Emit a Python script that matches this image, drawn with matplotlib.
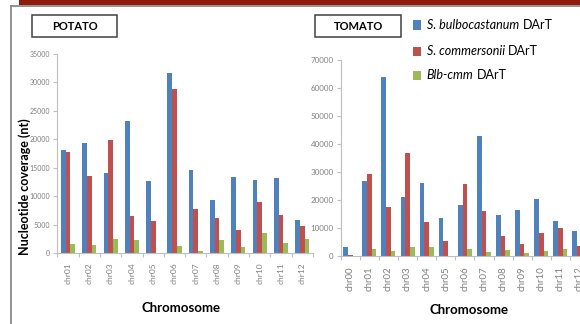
import matplotlib
matplotlib.use("Agg")
import matplotlib.pyplot as plt
from matplotlib.patches import Rectangle
import numpy as np

plt.rcParams['font.family'] = ['Lato', 'DejaVu Sans']

# Potato chromosomes
potato_chr = ["chr01", "chr02", "chr03", "chr04", "chr05", "chr06",
              "chr07", "chr08", "chr09", "chr10", "chr11", "chr12"]
potato_blb = [18200, 19350, 14000, 23150, 12650, 31700, 14600, 9250, 13400, 12900, 13250, 5800]
potato_cmm = [17700, 13500, 19800, 6500, 5700, 28850, 7800, 6200, 4050, 8950, 6650, 4750]
potato_blbcmm = [1550, 1350, 2400, 2300, 0, 1150, 400, 2250, 1050, 3500, 1800, 2450]

# Tomato chromosomes
tomato_chr = ["chr00", "chr01", "chr02", "chr03", "chr04", "chr05", "chr06",
              "chr07", "chr08", "chr09", "chr10", "chr11", "chr12"]
tomato_blb = [3200, 26950, 64000, 21000, 26100, 13650, 18450, 42900, 14700, 16500, 20450, 12500, 9150]
tomato_cmm = [500, 29200, 17700, 36800, 12200, 5450, 25650, 16050, 7150, 4550, 8200, 10100, 3550]
tomato_blbcmm = [0, 2500, 1900, 3200, 3200, 0, 2500, 1550, 2400, 1050, 2050, 2600, 2000]

series_names = ["S. bulbocastanum", "S. commersonii", "Blb-cmm"]
colors = ["#4F81BD", "#C0504D", "#9BBB59"]

W, H = 580, 324
fig = plt.figure(figsize=(W / 100, H / 100), dpi=100)


def fx(px):
    return px / W


def fy(py):
    return 1 - py / H


# top banner and frame
fig.patches.append(Rectangle((fx(19), fy(5)), 1 - fx(19), fy(0) - fy(5),
                             transform=fig.transFigure, facecolor="#8E1A0B",
                             edgecolor="none", zorder=0))
fig.add_artist(plt.Line2D([fx(11), fx(11)], [fy(5.5), 0], transform=fig.transFigure,
                          color="#8a8a8a", lw=1.3))
fig.add_artist(plt.Line2D([fx(11), 1], [fy(5.5), fy(5.5)], transform=fig.transFigure,
                          color="#8a8a8a", lw=1.3))

spine_col = "#BFBFBF"
tick_col = "#7F7F7F"


def draw_panel(rect, cats, data, ymax, ystep, bw, ysize, xsize):
    ax = fig.add_axes(rect)
    n = len(cats)
    x = np.arange(n)
    for i, (vals, c) in enumerate(zip(data, colors)):
        ax.bar(x + (i - 1) * bw, vals, width=bw, color=c, edgecolor="none", zorder=2)
    ax.set_xlim(-0.5, n - 0.5)
    ax.set_ylim(0, ymax)
    ax.set_yticks(np.arange(0, ymax + 1, ystep))
    ax.set_xticks(np.arange(n + 1) - 0.5)
    ax.set_xticklabels([])
    ax.set_xticks(x, minor=True)
    ax.set_xticklabels(cats, minor=True, rotation=90, fontsize=xsize, color=tick_col)
    ax.tick_params(axis="x", which="major", length=3, color=spine_col, width=0.8)
    ax.tick_params(axis="x", which="minor", length=0, pad=7)
    ax.tick_params(axis="y", length=3, color=spine_col, width=0.8, labelsize=ysize,
                   labelcolor=tick_col, pad=2)
    for s in ["top", "right"]:
        ax.spines[s].set_visible(False)
    for s in ["left", "bottom"]:
        ax.spines[s].set_color(spine_col)
        ax.spines[s].set_linewidth(0.8)
    ax.patch.set_alpha(0)
    return ax


# potato panel
ax1 = draw_panel([fx(57.3), fy(253), fx(313) - fx(57.3), fy(54) - fy(253)],
                 potato_chr, [potato_blb, potato_cmm, potato_blbcmm],
                 35000, 5000, 0.22, 5, 6)
# tomato panel (runs past the right edge)
ax2 = draw_panel([fx(340.7), fy(256.3), 13 * 19.1 / W, fy(60) - fy(256.3)],
                 tomato_chr, [tomato_blb, tomato_cmm, tomato_blbcmm],
                 70000, 10000, 0.245, 5.8, 7)

# axis titles
fig.text(fx(24.5), fy(186.5), "Nucleotide coverage (nt)", rotation=90,
         ha="center", va="center", fontsize=9, fontweight="bold")
fig.text(fx(181), fy(308), "Chromosome", ha="center", va="center",
         fontsize=9.5, fontweight="bold")
fig.text(fx(469), fy(310), "Chromosome", ha="center", va="center",
         fontsize=9.5, fontweight="bold")

# boxed panel titles
for (x0, x1, label) in [(32, 117, "POTATO"), (315, 401, "TOMATO")]:
    fig.patches.append(Rectangle((fx(x0), fy(37)), fx(x1) - fx(x0), fy(15) - fy(37),
                                 transform=fig.transFigure, facecolor="white",
                                 edgecolor="#404040", lw=1.1))
    fig.text(fx((x0 + x1) / 2), fy(26), label, ha="center", va="center",
             fontsize=8, fontweight="bold")

# legend
renderer = fig.canvas.get_renderer()
for yc, name, c in zip([25, 51, 75], series_names, colors):
    fig.patches.append(Rectangle((fx(412.7), fy(yc + 4.5)), fx(8), fy(0) - fy(9),
                                 transform=fig.transFigure, facecolor=c,
                                 edgecolor="none"))
    t = fig.text(fx(426.7), fy(yc), name, ha="left", va="center",
                 fontsize=9, style="italic")
    bb = t.get_window_extent(renderer)
    fig.text(bb.x1 / fig.dpi / fig.get_figwidth() + fx(3.5), fy(yc), "DArT",
             ha="left", va="center", fontsize=9)

fig.savefig("out.png", dpi=100)
